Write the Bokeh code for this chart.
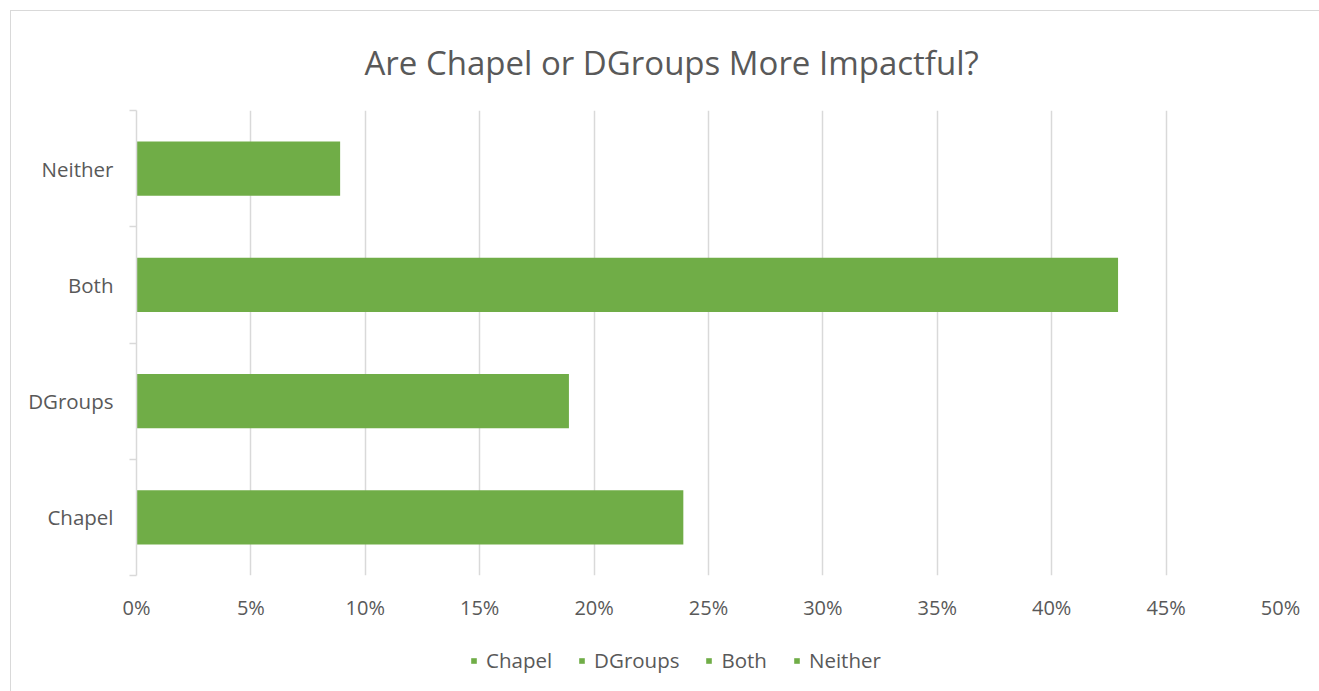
from bokeh.plotting import figure
from bokeh.layouts import column
from bokeh.models import Range1d, FixedTicker, NumeralTickFormatter, Legend, LegendItem, ColumnDataSource
from bokeh.embed import file_html
from bokeh.resources import INLINE

# ---- data ----
categories = ["Chapel", "DGroups", "Both", "Neither"]
values = [0.239, 0.189, 0.429, 0.089]
x_ticks = [0.0, 0.05, 0.10, 0.15, 0.20, 0.25, 0.30, 0.35, 0.40, 0.45, 0.50]
title_text = "Are Chapel or DGroups More Impactful?"

GREEN = "#70ad47"
TEXT = "#595959"
GRID = "#d9d9d9"
FONT = "Open Sans"

centers = [i + 0.5 for i in range(len(categories))]
src = ColumnDataSource(dict(y=centers, right=values, cat=categories))

p = figure(width=1308, height=619, output_backend="svg", toolbar_location=None,
           x_range=Range1d(0, 0.5), y_range=Range1d(0, len(categories)),
           min_border_left=125, min_border_right=39, min_border_top=99, min_border_bottom=55)
p.outline_line_color = None
p.background_fill_color = "white"
p.border_fill_color = "white"

r = p.hbar(y="y", right="right", left=0, height=0.465, source=src,
           fill_color=GREEN, line_color=None)

# title
p.title.text = title_text
p.title.align = "left"
p.title.offset = 228
p.title.text_font = FONT
p.title.text_font_size = "33px"
p.title.text_font_style = "normal"
p.title.text_color = TEXT
p.title.standoff = 52

# x axis
xa = p.xaxis[0]
xa.ticker = FixedTicker(ticks=x_ticks)
xa.formatter = NumeralTickFormatter(format="0%")
xa.axis_line_color = None
xa.major_tick_line_color = None
xa.minor_tick_line_color = None
xa.major_tick_out = 0
xa.major_tick_in = 0
xa.major_label_standoff = 18
xa.major_label_text_font = FONT
xa.major_label_text_font_size = "20px"
xa.major_label_text_color = TEXT

# y axis
ya = p.yaxis[0]
ya.ticker = FixedTicker(ticks=centers, minor_ticks=list(range(len(categories) + 1)))
ya.major_label_overrides = {c: lab for c, lab in zip(centers, categories)}
ya.axis_line_color = GRID
ya.axis_line_width = 1.5
ya.major_tick_line_color = None
ya.major_tick_out = 0
ya.major_tick_in = 0
ya.minor_tick_line_color = GRID
ya.minor_tick_line_width = 1.5
ya.minor_tick_out = 7
ya.minor_tick_in = 0
ya.major_label_standoff = 16
ya.major_label_text_font = FONT
ya.major_label_text_font_size = "20.5px"
ya.major_label_text_color = TEXT

# grids
p.xgrid.ticker = FixedTicker(ticks=x_ticks[1:])
p.xgrid.grid_line_color = GRID
p.xgrid.grid_line_width = 1.5
p.ygrid.grid_line_color = None

# legend strip below the chart
lg = figure(width=1308, height=61, output_backend="svg", toolbar_location=None,
            x_range=Range1d(0, 1), y_range=Range1d(-3, -2),
            min_border_left=0, min_border_right=0, min_border_top=0, min_border_bottom=0)
lg.axis.visible = False
lg.grid.visible = False
lg.outline_line_color = None
lg.background_fill_color = "white"
lg.border_fill_color = "white"
lr = lg.hbar(y="y", right="right", left=0, height=0.465, source=src,
             fill_color=GREEN, line_color=None)
lr.visible = False
items = [LegendItem(label=c, renderers=[lr], index=i) for i, c in enumerate(categories)]
leg = Legend(items=items, orientation="horizontal", location=(334, 17),
             glyph_width=7, glyph_height=7, label_standoff=9, spacing=26,
             padding=0, margin=0, border_line_color=None, background_fill_alpha=0,
             label_text_font=FONT, label_text_font_size="20.5px", label_text_color=TEXT)
lg.add_layout(leg)

layout = column(p, lg, spacing=0, margin=(11, 0, 0, 11))
layout.styles = {"outline": "1px solid #d9d9d9"}

open("out.html", "w").write(file_html(layout, INLINE))
